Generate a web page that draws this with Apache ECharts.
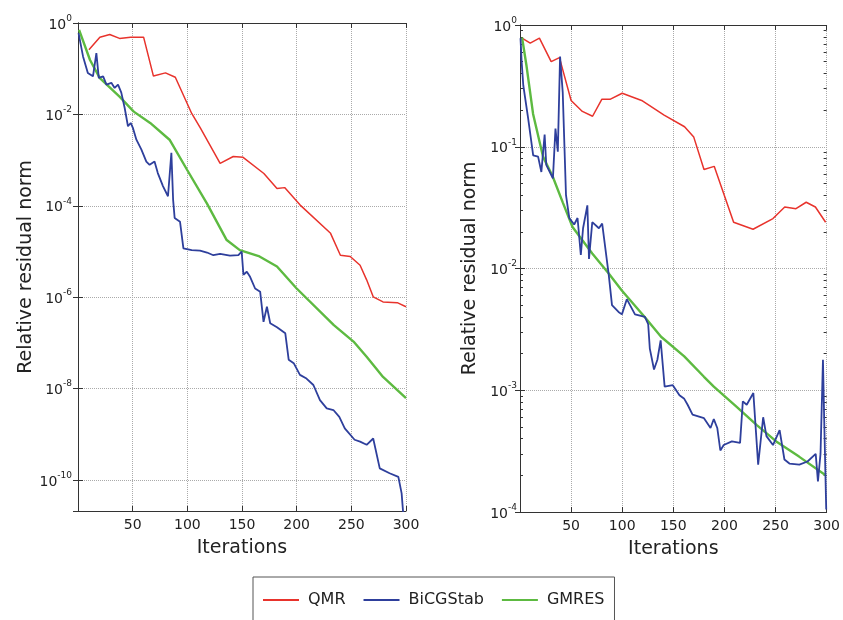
<!DOCTYPE html>
<html>
<head>
<meta charset="utf-8">
<script src="https://cdn.jsdelivr.net/npm/echarts@6/dist/echarts.min.js"></script>
<style>html,body{margin:0;padding:0;background:#fff}#c{width:843px;height:620px}</style>
</head>
<body>
<div id="c"></div>
<script>
// ---------- data ----------
const seriesNames = ['QMR', 'BiCGStab', 'GMRES'];
const xTicks = [50, 100, 150, 200, 250, 300];

// Left panel
const qmrLeftIter = [10, 20, 29, 38, 48, 60, 69, 80, 89, 104, 112, 130, 142, 151, 170, 182, 189, 203, 231, 240, 249, 258, 264, 270, 279, 292, 300];
const qmrLeftVal  = [0.26, 0.49, 0.56, 0.46, 0.49, 0.49, 0.069, 0.081, 0.065, 0.0105, 0.005, 8.5e-4, 1.2e-3, 1.15e-3, 5.1e-4, 2.4e-4, 2.5e-4, 1.05e-4, 2.5e-5, 8.3e-6, 7.8e-6, 5.0e-6, 2.4e-6, 1.02e-6, 7.9e-7, 7.6e-7, 6.2e-7];

const bicgLeftIter = [0.5, 4.6, 9, 13.7, 16.8, 19, 23, 26, 30.5, 33.5, 36.6, 39.6, 42.7, 45.7, 48.2, 50.3, 53.4, 58, 62.5, 65.5, 70, 73, 77.7, 82.3, 85.4, 87, 88.4, 93.3, 96.4, 104, 111.6, 118, 123.8, 130, 139, 146.7, 149.7, 151.3, 154.4, 157.4, 162, 166.6, 169.7, 172.8, 175.8, 182, 189.6, 192.7, 197.3, 203, 209, 215.3, 221.3, 227.5, 233.6, 239, 244, 253, 258, 264, 270, 276, 285, 293, 296, 298, 300];
const bicgLeftVal  = [0.60, 0.186, 0.081, 0.068, 0.22, 0.063, 0.068, 0.045, 0.049, 0.038, 0.045, 0.030, 0.0138, 0.0055, 0.0065, 0.0050, 0.0028, 0.0017, 9.3e-4, 7.9e-4, 9.3e-4, 5.2e-4, 2.7e-4, 1.62e-4, 1.45e-3, 1.35e-4, 5.4e-5, 4.5e-5, 1.17e-5, 1.07e-5, 1.05e-5, 9.5e-6, 8.3e-6, 8.9e-6, 8.1e-6, 8.3e-6, 1.0e-5, 3.1e-6, 3.6e-6, 2.8e-6, 1.55e-6, 1.32e-6, 2.9e-7, 6.2e-7, 2.7e-7, 2.2e-7, 1.62e-7, 4.3e-8, 3.6e-8, 2.0e-8, 1.66e-8, 1.2e-8, 5.6e-9, 3.7e-9, 3.4e-9, 2.4e-9, 1.35e-9, 7.6e-10, 6.9e-10, 5.9e-10, 8.1e-10, 1.8e-10, 1.41e-10, 1.17e-10, 5.1e-11, 1.26e-11, 1e-11];

const gmresLeftIter = [1, 11, 20, 38, 51, 66, 84, 100, 118, 136, 148, 166, 182, 200, 234, 252, 264, 279, 300];
const gmresLeftVal  = [0.71, 0.155, 0.062, 0.0245, 0.0115, 0.0065, 0.00275, 6.0e-4, 1.12e-4, 1.78e-5, 1.07e-5, 7.8e-6, 4.7e-6, 1.55e-6, 2.45e-7, 1.07e-7, 5.0e-8, 1.8e-8, 6.2e-9];

// Right panel
const qmrRightIter = [2, 10, 19, 30.5, 38.6, 50, 61, 71, 80, 88, 100, 119, 141, 161, 170, 180, 190, 209, 228, 247.5, 259, 270, 280, 289, 299];
const qmrRightVal  = [0.78, 0.71, 0.78, 0.50, 0.54, 0.24, 0.195, 0.178, 0.245, 0.245, 0.275, 0.24, 0.182, 0.146, 0.12, 0.065, 0.069, 0.024, 0.021, 0.0257, 0.032, 0.031, 0.035, 0.032, 0.024];

const bicgRightIter = [0.5, 1.6, 3.2, 8, 12.9, 17.7, 20.9, 24.1, 25.7, 32.2, 34.7, 37, 39.2, 41.8, 45, 48.2, 53, 56.3, 59.5, 61.7, 65.9, 67.5, 70.7, 77.2, 80.4, 86.8, 90, 96.4, 99.7, 104.5, 112.5, 122.2, 125.4, 127, 131.1, 134.4, 137.6, 141.5, 149.5, 156, 160.7, 164, 168.8, 180, 186.4, 189.6, 193, 196, 199.3, 207.3, 215.3, 218, 221.8, 228.3, 233, 237.9, 241.1, 247.5, 254, 258.7, 263.6, 273.3, 281.3, 289.3, 291.5, 294, 296.4, 297.6, 299.6];
const bicgRightVal  = [0.78, 0.50, 0.32, 0.17, 0.085, 0.083, 0.062, 0.126, 0.071, 0.055, 0.141, 0.091, 0.55, 0.28, 0.040, 0.026, 0.023, 0.026, 0.0129, 0.0214, 0.033, 0.012, 0.024, 0.0214, 0.0234, 0.0089, 0.0050, 0.0044, 0.0042, 0.0056, 0.0042, 0.0040, 0.0035, 0.0022, 0.00148, 0.00178, 0.00257, 0.00107, 0.0011, 9.1e-4, 8.5e-4, 7.6e-4, 6.3e-4, 5.9e-4, 4.9e-4, 5.8e-4, 4.9e-4, 3.2e-4, 3.55e-4, 3.8e-4, 3.7e-4, 8.1e-4, 7.6e-4, 9.5e-4, 2.45e-4, 6.0e-4, 4.2e-4, 3.55e-4, 4.7e-4, 2.7e-4, 2.5e-4, 2.45e-4, 2.6e-4, 3.0e-4, 1.78e-4, 3.0e-4, 1.78e-3, 5.8e-4, 1.05e-4];

const gmresRightIter = [2, 6.4, 12.8, 22.5, 32, 42, 51.4, 70.7, 86.8, 99.6, 122, 138, 160.7, 180, 189.6, 212, 231.4, 250.7, 273, 299];
const gmresRightVal  = [0.79, 0.46, 0.186, 0.083, 0.057, 0.0346, 0.0219, 0.0133, 0.0091, 0.0066, 0.0040, 0.00275, 0.0019, 0.00129, 0.00107, 7.3e-4, 5.2e-4, 3.8e-4, 2.85e-4, 2.0e-4];

// Minor log ticks of the right panel (2..9 x each decade)
const rightDecades = [1e-4, 1e-3, 1e-2, 1e-1];
const minorMultipliers = [2, 3, 4, 5, 6, 7, 8, 9];

// ---------- chart ----------
const FONT = 'DejaVu Sans';
const colors = ['#e8332c', '#2e3f9c', '#5dba41'];
const widths = [1.5, 1.8, 2.4];
const pairs = (xs, ys) => xs.map((x, i) => [x, ys[i]]);
const rightMinor = [];
rightDecades.forEach(d => minorMultipliers.forEach(m => rightMinor.push(+(d * m).toPrecision(3))));

const supLabel = v => {
  const e = Math.round(Math.log10(v));
  return '{b|10}{s|' + e + '}';
};
const richSup = {
  b: { fontFamily: FONT, fontSize: 14, color: '#222', lineHeight: 18, verticalAlign: 'bottom' },
  s: { fontFamily: FONT, fontSize: 9, color: '#222', lineHeight: 18, verticalAlign: 'top', padding: [0, 0, 6, 0] }
};

const grids = [
  { left: 78, top: 23, width: 328, height: 488 },
  { left: 520, top: 25, width: 311, height: 487 }
];
const gridLine = { show: true, lineStyle: { color: '#aaaaaa', type: 'dotted', width: 1 } };

function xAxes(gi) {
  return [
    {
      type: 'value', gridIndex: gi, position: 'bottom', min: 0, max: 300, interval: 50,
      name: 'Iterations', nameLocation: 'middle', nameGap: 28,
      nameTextStyle: { fontFamily: FONT, fontSize: 19, color: '#222' },
      axisLine: { show: true, lineStyle: { color: '#333', width: 1 } },
      axisTick: { show: true, inside: true, length: 5, lineStyle: { color: '#333' } },
      axisLabel: { fontFamily: FONT, fontSize: 14, color: '#222', margin: 7,
        formatter: v => (xTicks.indexOf(v) >= 0 ? String(v) : '') },
      splitLine: gridLine
    },
    {
      type: 'value', gridIndex: gi, position: 'top', min: 0, max: 300, interval: 50,
      axisLine: { show: true, lineStyle: { color: '#333', width: 1 } },
      axisTick: { show: true, inside: true, length: 5, lineStyle: { color: '#333' } },
      axisLabel: { show: false }, splitLine: { show: false }
    }
  ];
}

function yAxes(gi, base, min, margin) {
  return [
    {
      type: 'log', logBase: base, gridIndex: gi, position: 'left', min: min, max: 1,
      name: 'Relative residual norm', nameLocation: 'middle', nameGap: 40, nameRotate: 90,
      nameTextStyle: { fontFamily: FONT, fontSize: 19, color: '#222' },
      axisLine: { show: true, lineStyle: { color: '#333', width: 1 } },
      axisTick: { show: true, inside: true, length: 5, lineStyle: { color: '#333' } },
      axisLabel: { showMinLabel: gi === 1, margin: margin, formatter: supLabel, rich: richSup },
      splitLine: gridLine
    },
    {
      type: 'log', logBase: base, gridIndex: gi, position: 'right', min: min, max: 1,
      axisLine: { show: true, lineStyle: { color: '#333', width: 1 } },
      axisTick: { show: true, inside: true, length: 5, lineStyle: { color: '#333' } },
      axisLabel: { show: false }, splitLine: { show: false }
    }
  ];
}

function minorAxis(gi, pos, min) {
  return {
    type: 'log', logBase: 10, gridIndex: gi, position: pos, min: min, max: 1,
    axisLine: { show: false },
    axisTick: { show: true, inside: true, length: 3, customValues: rightMinor, lineStyle: { color: '#333' } },
    axisLabel: { show: false }, splitLine: { show: false }
  };
}

function mkSeries(name, idx, xi, yi, data) {
  return {
    name: name, type: 'line', xAxisIndex: xi, yAxisIndex: yi, data: data,
    showSymbol: false, symbol: 'none', smooth: false, clip: true,
    lineStyle: { color: colors[idx], width: widths[idx] },
    itemStyle: { color: colors[idx] }
  };
}

const option = {
  backgroundColor: '#fff',
  animation: false,
  grid: grids,
  xAxis: [...xAxes(0), ...xAxes(1)],
  yAxis: [...yAxes(0, 100, 2.1e-11, 6), ...yAxes(1, 10, 1e-4, 3), minorAxis(1, 'left', 1e-4), minorAxis(1, 'right', 1e-4)],
  legend: {
    data: seriesNames,
    left: 253, top: 577,
    orient: 'horizontal',
    icon: 'rect', itemWidth: 36, itemHeight: 2, itemGap: 18,
    padding: [15, 10, 22, 10],
    borderColor: '#555', borderWidth: 1, borderRadius: 0,
    textStyle: { fontFamily: FONT, fontSize: 16, color: '#222', padding: [0, 0, 0, 4] }
  },
  series: [
    mkSeries('QMR', 0, 0, 0, pairs(qmrLeftIter, qmrLeftVal)),
    mkSeries('GMRES', 2, 0, 0, pairs(gmresLeftIter, gmresLeftVal)),
    mkSeries('BiCGStab', 1, 0, 0, pairs(bicgLeftIter, bicgLeftVal)),
    mkSeries('QMR', 0, 2, 2, pairs(qmrRightIter, qmrRightVal)),
    mkSeries('GMRES', 2, 2, 2, pairs(gmresRightIter, gmresRightVal)),
    mkSeries('BiCGStab', 1, 2, 2, pairs(bicgRightIter, bicgRightVal))
  ]
};

const chart = echarts.init(document.getElementById('c'), null, { renderer: 'canvas' });
chart.setOption(option);
</script>
</body>
</html>
